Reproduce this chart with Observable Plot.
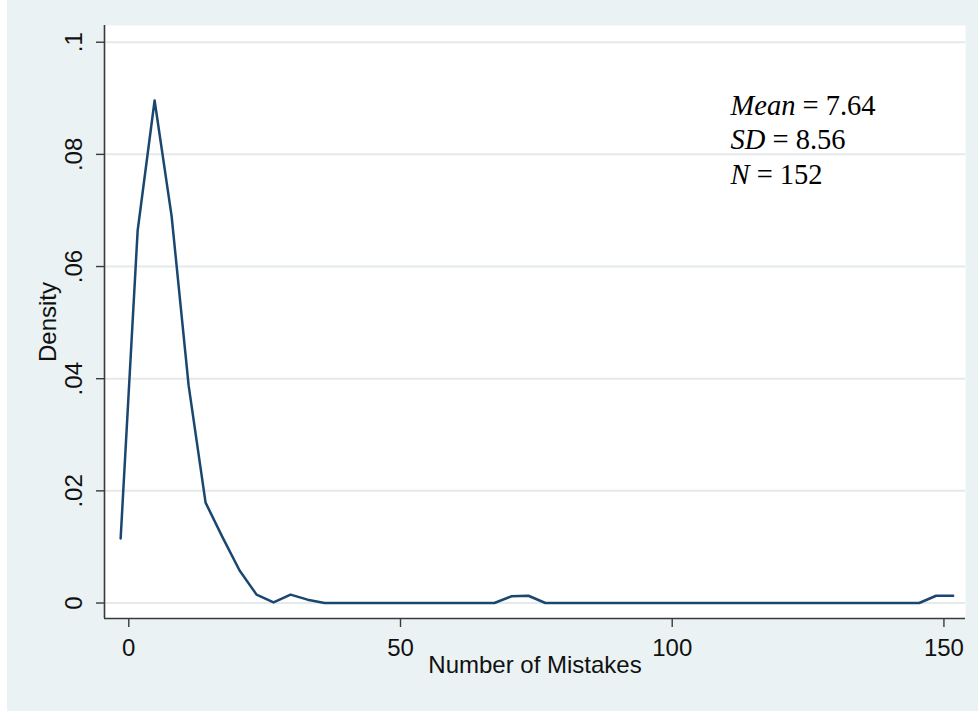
<!DOCTYPE html>
<html>
<head>
<meta charset="utf-8">
<script src="https://cdn.jsdelivr.net/npm/d3@7"></script>
<script src="https://cdn.jsdelivr.net/npm/@observablehq/plot@0.6"></script>
<style>
  html, body { margin: 0; padding: 0; background: #ffffff; }
  #chart svg { display: block; }
</style>
</head>
<body>
<div id="chart"></div>
<script>
// Kernel density estimate of "Number of Mistakes" (50 evaluation points)
const mistakes = [
  -1.50, 1.63, 4.75, 7.88, 11.01, 14.13, 17.26, 20.39, 23.51, 26.64,
  29.77, 32.89, 36.02, 39.14, 42.27, 45.40, 48.52, 51.65, 54.78, 57.90,
  61.03, 64.16, 67.28, 70.41, 73.54, 76.66, 79.79, 82.92, 86.04, 89.17,
  92.30, 95.42, 98.55, 101.67, 104.80, 107.93, 111.05, 114.18, 117.31, 120.43,
  123.56, 126.69, 129.81, 132.94, 136.07, 139.19, 142.32, 145.45, 148.57, 151.70
];
const density = [
  0.0115, 0.0664, 0.0896, 0.0690, 0.0388, 0.0179, 0.0117, 0.0058, 0.0015, 0.0001,
  0.0015, 0.0006, 0.0000, 0.0000, 0.0000, 0.0000, 0.0000, 0.0000, 0.0000, 0.0000,
  0.0000, 0.0000, 0.0000, 0.0012, 0.0013, 0.0000, 0.0000, 0.0000, 0.0000, 0.0000,
  0.0000, 0.0000, 0.0000, 0.0000, 0.0000, 0.0000, 0.0000, 0.0000, 0.0000, 0.0000,
  0.0000, 0.0000, 0.0000, 0.0000, 0.0000, 0.0000, 0.0000, 0.0000, 0.0013, 0.0013
];
const xTicks = [0, 50, 100, 150];
const yTicks = [0, 0.02, 0.04, 0.06, 0.08, 0.1];
const yTickLabels = ["0", ".02", ".04", ".06", ".08", ".1"];
const xTitle = "Number of Mistakes";
const yTitle = "Density";
const statNames = ["Mean", "SD", "N"];
const statValues = ["7.64", "8.56", "152"];

const data = mistakes.map((x, i) => ({x, y: density[i]}));
const xDomain = [-4.47, 153.97];
const yDomain = [-0.00276, 0.10298];
const statText = statNames.map((n, i) => `${n} = ${statValues[i]}`).join("\n");

const chart = Plot.plot({
  width: 978,
  height: 711,
  marginLeft: 104,
  marginRight: 13,
  marginTop: 25,
  marginBottom: 93,
  style: {
    background: "linear-gradient(to right, #ffffff 7px, #eaf2f3 7px)",
    fontFamily: "'Liberation Sans', Arial, Helvetica, sans-serif",
    fontSize: "24px",
    color: "#111111",
    overflow: "visible"
  },
  x: {domain: xDomain},
  y: {domain: yDomain},
  marks: [
    Plot.frame({fill: "#ffffff", stroke: null}),
    Plot.gridY(yTicks, {stroke: "#e4e9eb", strokeOpacity: 1, strokeWidth: 2}),
    Plot.line(data, {x: "x", y: "y", stroke: "#1a476f", strokeWidth: 2.5, strokeLinejoin: "round"}),
    Plot.ruleY([yDomain[0]], {stroke: "#3a3a3a", strokeWidth: 1.6}),
    Plot.ruleX([xDomain[0]], {stroke: "#3a3a3a", strokeWidth: 1.6}),
    Plot.axisX(xTicks, {tickSize: 9, tickPadding: 11, stroke: "#3a3a3a", strokeWidth: 1.4, label: null, tickFormat: d => String(d)}),
    Plot.axisY(yTicks, {tickSize: 8, stroke: "#3a3a3a", strokeWidth: 1.4, label: null, tickFormat: () => ""}),
    Plot.text(yTicks, {y: d => d, text: (d, i) => yTickLabels[i], frameAnchor: "left", dx: -30, rotate: -90, textAnchor: "middle"}),
    Plot.text([yTitle], {frameAnchor: "left", dx: -56, rotate: -90, textAnchor: "middle"}),
    Plot.text([xTitle], {frameAnchor: "bottom", dy: 54, textAnchor: "middle"}),
    Plot.text([statText], {
      frameAnchor: "top-left", dx: 626, dy: 65, textAnchor: "start", lineAnchor: "top",
      lineHeight: 1.21, fontSize: 28.5,
      fontFamily: "'Liberation Serif', 'Times New Roman', Times, serif",
      fill: "#000000"
    })
  ]
});

// Italicize the statistic names within the annotation
chart.querySelectorAll("tspan, text").forEach(el => {
  if (el.children.length) return;
  const t = el.textContent;
  const m = /^(Mean|SD|N) = (.*)$/.exec(t);
  if (!m) return;
  el.textContent = "";
  const ns = "http://www.w3.org/2000/svg";
  const a = document.createElementNS(ns, "tspan");
  a.setAttribute("font-style", "italic");
  a.textContent = m[1];
  const b = document.createElementNS(ns, "tspan");
  b.textContent = " = " + m[2];
  el.appendChild(a);
  el.appendChild(b);
});

document.getElementById("chart").appendChild(chart);
</script>
</body>
</html>
